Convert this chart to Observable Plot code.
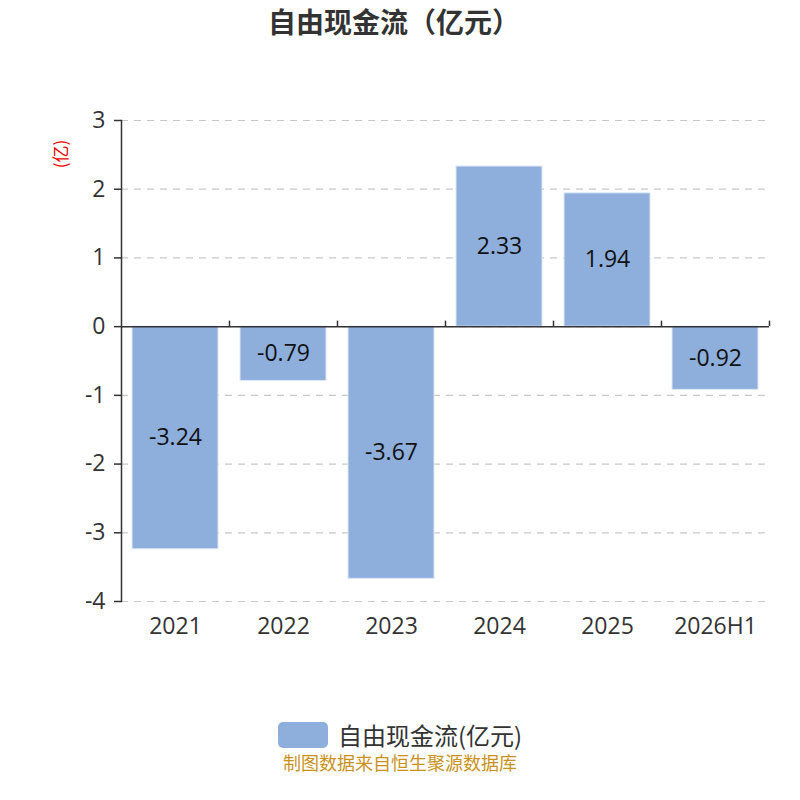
<!DOCTYPE html>
<html>
<head>
<meta charset="utf-8">
<script src="https://cdn.jsdelivr.net/npm/d3@7"></script>
<script src="https://cdn.jsdelivr.net/npm/@observablehq/plot@0.6"></script>
<style>
  html, body { margin: 0; padding: 0; background: #fff; }
  #wrap { position: relative; width: 800px; height: 800px; font-family: "Noto Sans CJK SC", "Noto Sans", sans-serif; }
  #wrap svg { position: absolute; left: 0; top: 0; }
  .title { position: absolute; left: 0; width: 788px; top: 1px; text-align: center; font-size: 28px; font-weight: bold; color: #333; line-height: 40px; }
  .unit { position: absolute; left: 59px; top: 154px; transform: translate(-50%, -50%) rotate(-90deg); font-size: 17px; color: #e00; white-space: nowrap; line-height: 17px; }
  .legend { position: absolute; top: 720px; left: 278px; display: flex; align-items: center; font-size: 24px; color: #333; line-height: 30px; }
  .legend .sw { width: 50px; height: 26px; border-radius: 5px; background: #8eaedb; margin-right: 10px; }
  .footer { position: absolute; left: 0; width: 800px; top: 750px; text-align: center; font-size: 18px; color: #c8921c; line-height: 24px; }
</style>
</head>
<body>
<div id="wrap">
  <div class="title">自由现金流（亿元）</div>
  <div class="unit">(亿)</div>
  <div class="legend"><div class="sw"></div><span>自由现金流(亿元)</span></div>
  <div class="footer">制图数据来自恒生聚源数据库</div>
</div>
<script>
const categories = ["2021", "2022", "2023", "2024", "2025", "2026H1"];
const values = [-3.24, -0.79, -3.67, 2.33, 1.94, -0.92];
const yTicks = [-4, -3, -2, -1, 0, 1, 2, 3];

const data = categories.map((c, i) => ({category: c, value: values[i]}));
const numFont = '"Open Sans", "Noto Sans", sans-serif';

const chart = Plot.plot({
  width: 800,
  height: 800,
  marginTop: 120,
  marginBottom: 199,
  marginLeft: 121,
  marginRight: 31,
  style: {fontFamily: numFont, background: "transparent"},
  x: {domain: categories, paddingInner: 0.2, paddingOuter: 0.1, label: null},
  y: {domain: [-4, 3], label: null},
  marks: [
    Plot.gridY(yTicks, {stroke: "#c8c8c8", strokeOpacity: 1, strokeDasharray: "7,6", strokeWidth: 1.2}),
    Plot.barY(data, {x: "category", y: "value", fill: "#8eaedb", stroke: "#dde7f5", strokeWidth: 1}),
    Plot.ruleY([0], {stroke: "#333", strokeWidth: 1.5}),
    Plot.ruleX(categories, {x: d => d, y1: 0, y2: 0.08, dx: 54, stroke: "#333", strokeWidth: 1.5}),
    Plot.frame({anchor: "left", stroke: "#333", strokeWidth: 1.5}),
    Plot.axisY(yTicks, {tickSize: 7, tickPadding: 9, fontSize: 23, fill: "#333", stroke: "#333", strokeWidth: 1.5, tickFormat: d => String(d).replace("−", "-"), label: null}),
    Plot.axisX({tickSize: 0, tickPadding: 16, fontSize: 23, fill: "#333", label: null}),
    Plot.text(data, {x: "category", y: d => d.value / 2, text: d => d.value.toFixed(2), fontSize: 23, fill: "#111"})
  ]
});
document.getElementById("wrap").prepend(chart);
</script>
</body>
</html>
